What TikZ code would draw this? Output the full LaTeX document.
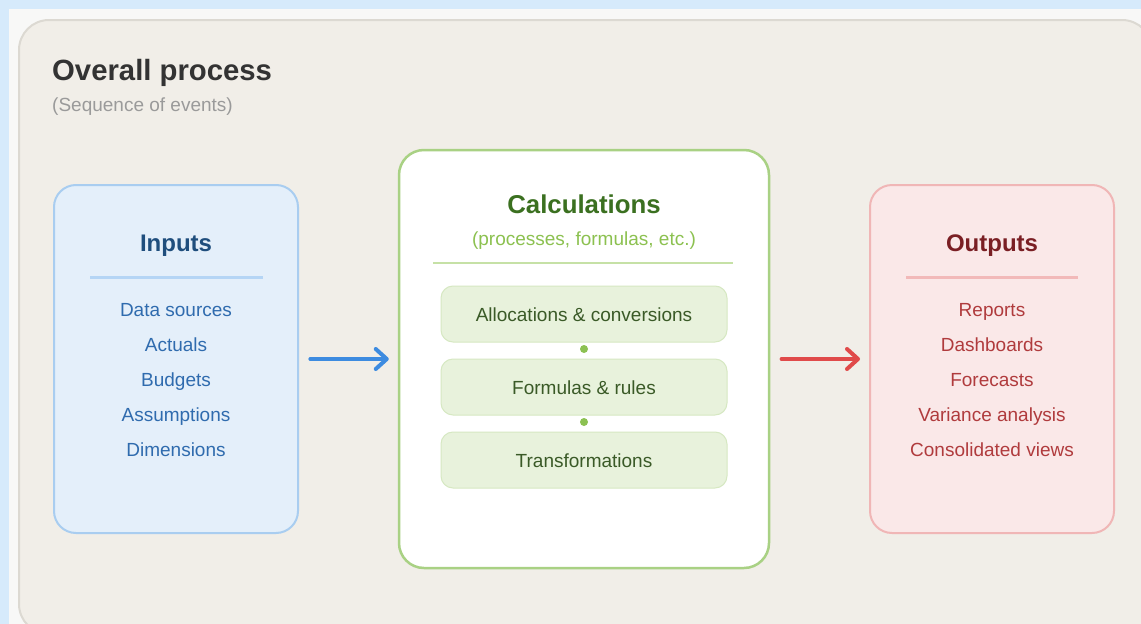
\documentclass[tikz,border=0pt]{standalone}
\usepackage{fontspec}
\setmainfont{Liberation Sans}
\usetikzlibrary{arrows.meta}

\definecolor{pagebg}{HTML}{D6EAFB}
\definecolor{sheet}{HTML}{F8F8F7}
\definecolor{panelfill}{HTML}{F1EEE8}
\definecolor{panelline}{HTML}{DCD9D2}
\definecolor{titlegray}{HTML}{333333}
\definecolor{subgray}{HTML}{9A9A9A}

\definecolor{infill}{HTML}{E4EFFA}
\definecolor{inline}{HTML}{A9CDF0}
\definecolor{inrule}{HTML}{B5D5F5}
\definecolor{inhead}{HTML}{1F4E7D}
\definecolor{initem}{HTML}{2F6BAE}
\definecolor{inarrow}{HTML}{3D8BE0}

\definecolor{calcline}{HTML}{A9D184}
\definecolor{calcrule}{HTML}{C6E1A6}
\definecolor{calchead}{HTML}{3B7020}
\definecolor{calcsub}{HTML}{8CC150}
\definecolor{stepfill}{HTML}{E8F2DC}
\definecolor{stepline}{HTML}{D6E8C2}
\definecolor{steptext}{HTML}{3A5A27}
\definecolor{stepdot}{HTML}{8CC152}

\definecolor{outfill}{HTML}{FAE8E8}
\definecolor{outline}{HTML}{F0B6B6}
\definecolor{outrule}{HTML}{F2B9B9}
\definecolor{outhead}{HTML}{7A1F24}
\definecolor{outitem}{HTML}{B03B3D}
\definecolor{outarrow}{HTML}{E04A4A}

\tikzset{
  colbox/.style={draw, line width=2pt, rounded corners=22pt, inner sep=0pt},
  stepbox/.style={draw=stepline, fill=stepfill, line width=1pt, rounded corners=12pt,
    minimum width=286pt, minimum height=56pt, inner sep=0pt},
  steplabel/.style={anchor=base, inner sep=0pt, text=steptext, font=\fontsize{19}{22}\selectfont},
  head/.style={anchor=base, font=\bfseries\fontsize{24}{28}\selectfont, inner sep=0pt},
  item/.style={anchor=base, font=\fontsize{19}{22}\selectfont, inner sep=0pt},
  dot/.style={circle, fill=stepdot, inner sep=0pt, minimum size=8pt},
  flow/.style={line width=3.2pt, line cap=round,
    -{Straight Barb[length=11pt, width=20pt, line width=4pt, line cap=round, line join=round]},
    shorten <=11pt, shorten >=9pt},
}

\begin{document}
\begin{tikzpicture}[x=1pt, y=-1pt]
  \useasboundingbox (0,0) rectangle (1141,624);
  % backdrop, sheet and main panel
  \fill[pagebg] (0,0) rectangle (1141,624);
  \fill[sheet] (9,9) rectangle (1160,640);
  \draw[panelline, fill=panelfill, line width=2pt, rounded corners=30pt]
    (19,20) rectangle (1152,634);

  % heading
  \node[anchor=base west, inner sep=0pt, text=titlegray,
        font=\bfseries\fontsize{29.3}{33}\selectfont] (title) at (52,80) {Overall process};
  \node[anchor=base west, inner sep=0pt, text=subgray,
        font=\fontsize{19}{22}\selectfont] (subtitle) at (52,111) {(Sequence of events)};

  % inputs column
  \node[colbox, draw=inline, fill=infill, minimum width=244pt, minimum height=348pt]
    (inputs) at (176,359) {};
  \node[head, text=inhead] (inhd) at (176,251.5) {Inputs};
  \draw[inrule, line width=3pt] (90,277) coordinate (inrA) -- (263,277) coordinate (inrB);
  \node[item, text=initem] (in1) at (176,316) {Data sources};
  \node[item, text=initem] (in2) at (176,351) {Actuals};
  \node[item, text=initem] (in3) at (176,386) {Budgets};
  \node[item, text=initem] (in4) at (176,421) {Assumptions};
  \node[item, text=initem] (in5) at (176,456) {Dimensions};

  % calculations column
  \node[colbox, draw=calcline, fill=white, line width=2.5pt, rounded corners=25pt,
        minimum width=370pt, minimum height=418pt] (calc) at (584,359) {};
  \node[head, text=calchead, font=\bfseries\fontsize{25.8}{30}\selectfont] (calchd) at (584,213) {Calculations};
  \node[item, text=calcsub] (calcsb) at (584,245.5) {(processes, formulas, etc.)};
  \draw[calcrule, line width=2.5pt] (433,263) coordinate (crA) -- (733,263) coordinate (crB);
  \node[stepbox] (s1) at (584,314) {};
  \node[stepbox] (s2) at (584,387) {};
  \node[stepbox] (s3) at (584,460) {};
  \node[steplabel] (s1t) at (584,321) {Allocations \& conversions};
  \node[steplabel] (s2t) at (584,394) {Formulas \& rules};
  \node[steplabel] (s3t) at (584,467) {Transformations};
  \node[dot] (d1) at (584,349) {};
  \node[dot] (d2) at (584,422) {};

  % outputs column
  \node[colbox, draw=outline, fill=outfill, minimum width=244pt, minimum height=348pt]
    (outputs) at (992,359) {};
  \node[head, text=outhead] (outhd) at (992,251.5) {Outputs};
  \draw[outrule, line width=3pt] (906,277) coordinate (orA) -- (1078,277) coordinate (orB);
  \node[item, text=outitem] (out1) at (992,316) {Reports};
  \node[item, text=outitem] (out2) at (992,351) {Dashboards};
  \node[item, text=outitem] (out3) at (992,386) {Forecasts};
  \node[item, text=outitem] (out4) at (992,421) {Variance analysis};
  \node[item, text=outitem] (out5) at (992,456) {Consolidated views};

  % flow arrows
  \draw[flow, inarrow] (inputs) -- (calc);
  \draw[flow, outarrow] (calc) -- (outputs);
\end{tikzpicture}
\end{document}
